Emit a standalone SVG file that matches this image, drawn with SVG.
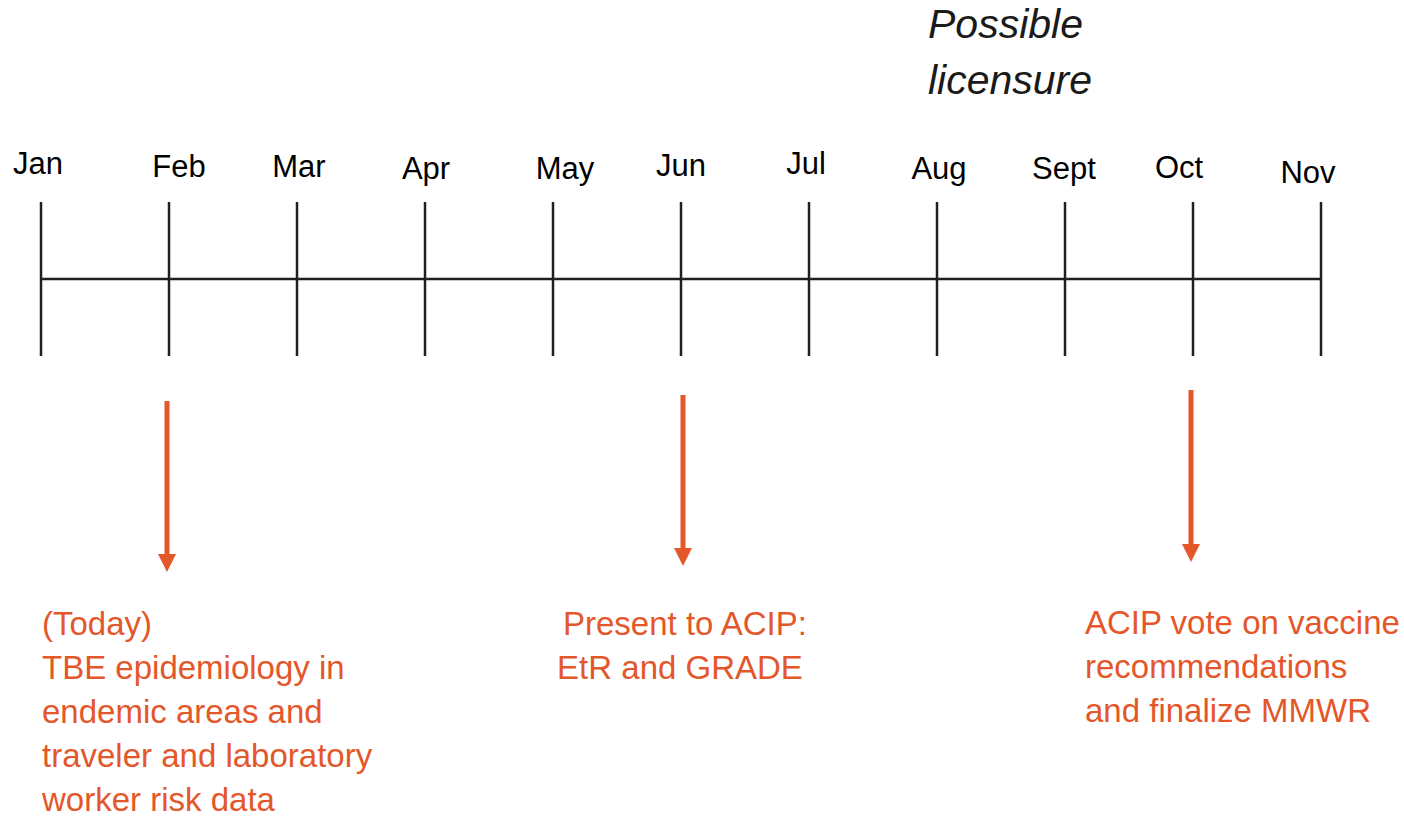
<svg xmlns="http://www.w3.org/2000/svg" width="1404" height="816" viewBox="0 0 1404 816">
<style>
.tick{stroke:#1f1f1f;stroke-width:2.5;fill:none}
.mon{font-family:"Liberation Sans",Arial,sans-serif;font-size:31px;fill:#000;text-anchor:middle}
.lic{font-family:"Liberation Sans",Arial,sans-serif;font-size:41px;font-style:italic;fill:#1a1a1a}
.note{font-family:"Liberation Sans",Arial,sans-serif;font-size:33px;fill:#E4572A}
.arr{stroke:#E4572A;stroke-width:5;fill:none}
</style>
<defs>
<marker id="ah" markerUnits="userSpaceOnUse" markerWidth="20" markerHeight="20" refX="0" refY="9" orient="auto" viewBox="0 0 20 18">
<path d="M0,0 L18,9 L0,18 Z" fill="#E4572A"/>
</marker>
</defs>
<rect width="1404" height="816" fill="#fff"/>
<g id="timeline">
<line class="tick" x1="41" y1="279" x2="1321" y2="279"/>
<line class="tick" x1="41" y1="202" x2="41" y2="356"/>
<line class="tick" x1="169" y1="202" x2="169" y2="356"/>
<line class="tick" x1="297" y1="202" x2="297" y2="356"/>
<line class="tick" x1="425" y1="202" x2="425" y2="356"/>
<line class="tick" x1="553" y1="202" x2="553" y2="356"/>
<line class="tick" x1="681" y1="202" x2="681" y2="356"/>
<line class="tick" x1="809" y1="202" x2="809" y2="356"/>
<line class="tick" x1="937" y1="202" x2="937" y2="356"/>
<line class="tick" x1="1065" y1="202" x2="1065" y2="356"/>
<line class="tick" x1="1193" y1="202" x2="1193" y2="356"/>
<line class="tick" x1="1321" y1="202" x2="1321" y2="356"/>
</g>
<g id="months">
<text class="mon" x="38" y="174">Jan</text>
<text class="mon" x="179" y="177">Feb</text>
<text class="mon" x="299" y="177">Mar</text>
<text class="mon" x="426" y="179">Apr</text>
<text class="mon" x="565" y="179">May</text>
<text class="mon" x="681" y="176">Jun</text>
<text class="mon" x="806" y="174">Jul</text>
<text class="mon" x="939" y="179">Aug</text>
<text class="mon" x="1064" y="179">Sept</text>
<text class="mon" x="1179" y="178">Oct</text>
<text class="mon" x="1308" y="183">Nov</text>
</g>
<g id="licensure">
<text class="lic" x="928" y="38">Possible</text>
<text class="lic" x="928" y="94">licensure</text>
</g>
<g id="connectors">
<line class="arr" x1="167" y1="401" x2="167" y2="554" marker-end="url(#ah)"/>
<line class="arr" x1="683" y1="395" x2="683" y2="548" marker-end="url(#ah)"/>
<line class="arr" x1="1191" y1="390" x2="1191" y2="544" marker-end="url(#ah)"/>
</g>
<g id="note-feb">
<text class="note" x="42" y="635">(Today)</text>
<text class="note" x="42" y="679">TBE epidemiology in</text>
<text class="note" x="42" y="723">endemic areas and</text>
<text class="note" x="42" y="767">traveler and laboratory</text>
<text class="note" x="42" y="811">worker risk data</text>
</g>
<g id="note-jun">
<text class="note" x="685" y="635" text-anchor="middle">Present to ACIP:</text>
<text class="note" x="680" y="679" text-anchor="middle">EtR and GRADE</text>
</g>
<g id="note-oct">
<text class="note" x="1085" y="634">ACIP vote on vaccine</text>
<text class="note" x="1085" y="678">recommendations</text>
<text class="note" x="1085" y="722">and finalize MMWR</text>
</g>
</svg>
